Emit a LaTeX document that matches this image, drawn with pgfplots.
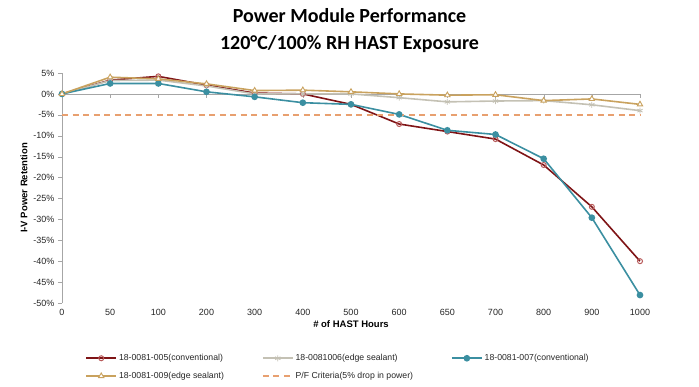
\documentclass[border=0pt]{standalone}
\usepackage{fontspec}
\setmainfont{Liberation Sans}
\newfontfamily\titlefont{Carlito}
\usepackage{pgfplots}
\pgfplotsset{compat=1.18}
\definecolor{cA}{HTML}{7F1416}
\definecolor{cAm}{HTML}{B85A5A}
\definecolor{cB}{HTML}{C4C1B4}
\definecolor{cC}{HTML}{3B8FA1}
\definecolor{cD}{HTML}{C9A25E}
\definecolor{cE}{HTML}{E8A070}
\definecolor{axgray}{HTML}{A6A6A6}
\begin{document}
\begin{tikzpicture}
\path (0pt,0pt) rectangle (699pt,386pt);
\node[font=\titlefont\bfseries\fontsize{20}{27}\selectfont, align=center] at (349.5pt,355.5pt) {Power Module Performance\\120°C/100\% RH HAST Exposure};
% axis line at zero
\begin{axis}[at={(62pt,83pt)}, anchor=south west, scale only axis, width=578pt, height=230pt,
  xmin=0, xmax=12, ymin=-50, ymax=5,
  axis x line=middle, axis y line=none, axis line style={-, draw=axgray},
  xtick={0,...,12}, xticklabels={}, tick align=outside, major tick length=4pt,
  xtick style={draw=axgray}]
\addplot[draw=none] coordinates {(0,0)};
\end{axis}
\begin{axis}[at={(62pt,83pt)}, anchor=south west, scale only axis, width=578pt, height=230pt,
  xmin=0, xmax=12, ymin=-50, ymax=5,
  axis x line*=bottom, axis y line*=left,
  x axis line style={draw=none}, y axis line style={-, draw=axgray},
  xtick={0,...,12}, xticklabels={0,50,100,200,300,400,500,600,650,700,800,900,1000},
  xtick style={draw=none},
  ytick={-50,-45,...,5}, yticklabel={\pgfmathprintnumber{\tick}\%},
  ytick style={draw=axgray}, tick align=outside, major tick length=4pt,
  /pgf/number format/assume math mode=true,
  ticklabel style={font=\fontsize{9}{10}\selectfont, text=black!85},
  xticklabel style={yshift=1pt},
  xlabel={\# of HAST Hours}, ylabel={I-V Power Retention},
  label style={font=\bfseries\fontsize{9.5}{11}\selectfont},
  xlabel style={yshift=2pt},
  ylabel style={yshift=-1pt},
  clip=false,
  legend columns=3,
  legend cell align=left,
  legend style={at={(0.035,-0.205)}, anchor=north west, draw=none, fill=none,
    font=\fontsize{8.7}{10}\selectfont, text=black!85, row sep=6pt,
    /tikz/every even column/.append style={column sep=36pt}},
  legend image code/.code={\draw[mark repeat=2,mark phase=2] plot coordinates {(0pt,0pt) (15pt,0pt) (30pt,0pt)};}]
\addplot[cA, line width=1.6pt, mark=o, mark size=2.5pt, mark options={fill=white, draw=cAm, line width=1pt}] coordinates {
(0,0) (1,3.3) (2,4.2) (3,2.1) (4,0.2) (5,0) (6,-2.5) (7,-7.2) (8,-9) (9,-10.8) (10,-17) (11,-27) (12,-40)};
\addlegendentry{18-0081-005(conventional)}
\addplot[cB, line width=1.6pt, mark=asterisk, mark size=3pt, mark options={line width=0.8pt}] coordinates {
(0,0) (1,3.2) (2,3.3) (3,1.9) (4,0) (5,0) (6,0) (7,-0.9) (8,-1.9) (9,-1.7) (10,-1.6) (11,-2.6) (12,-4)};
\addlegendentry{18-0081006(edge sealant)}
\addplot[cC, line width=1.6pt, mark=*, mark size=2.5pt] coordinates {
(0,0) (1,2.5) (2,2.5) (3,0.5) (4,-0.7) (5,-2.1) (6,-2.5) (7,-4.9) (8,-8.7) (9,-9.7) (10,-15.5) (11,-29.6) (12,-48.1)};
\addlegendentry{18-0081-007(conventional)}
\addplot[cD, line width=1.6pt, mark=triangle*, mark size=3.1pt, mark options={fill=white, line width=0.9pt}] coordinates {
(0,0) (1,4.0) (2,3.6) (3,2.4) (4,0.8) (5,0.9) (6,0.5) (7,0) (8,-0.3) (9,-0.2) (10,-1.6) (11,-1.2) (12,-2.5)};
\addlegendentry{18-0081-009(edge sealant)}
\addplot[cE, dash pattern=on 6pt off 4.5pt, line width=1.6pt] coordinates {(0,-5) (12,-5)};
\addlegendentry{P/F Criteria(5\% drop in power)}
\end{axis}
\end{tikzpicture}
\end{document}
